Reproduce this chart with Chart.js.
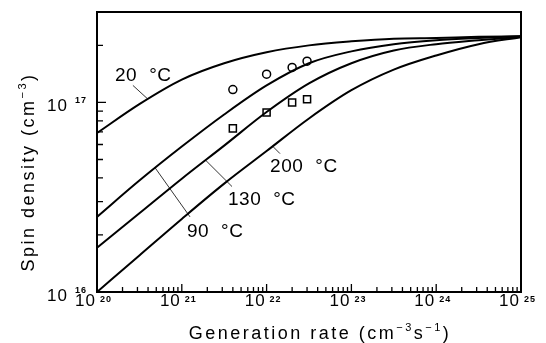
<!DOCTYPE html>
<html>
<head>
<meta charset="utf-8">
<script src="https://cdn.jsdelivr.net/npm/chart.js@4.4.1/dist/chart.umd.min.js"></script>
<style>
  html, body { margin: 0; padding: 0; background: #fff; }
</style>
</head>
<body>
<canvas id="chart" width="546" height="343"></canvas>
<script>
// Generation rate grid (cm^-3 s^-1), half-decade steps
const rates = [1e20, 3.16e20, 1e21, 3.16e21, 1e22, 3.16e22, 1e23, 3.16e23, 1e24, 3.16e24, 1e25];

// Spin density curves (cm^-3)
const curve20  = [6.9e16, 9.8e16, 1.32e17, 1.61e17, 1.84e17, 2.0e17, 2.1e17, 2.17e17, 2.19e17, 2.22e17, 2.235e17];
const curve90  = [2.49e16, 3.87e16, 5.85e16, 8.64e16, 1.23e17, 1.61e17, 1.86e17, 2.03e17, 2.13e17, 2.19e17, 2.235e17];
const curve130 = [1.71e16, 2.6e16, 3.96e16, 5.92e16, 8.9e16, 1.26e17, 1.61e17, 1.88e17, 2.03e17, 2.13e17, 2.22e17];
const curve200 = [1.0e16, 1.56e16, 2.43e16, 3.73e16, 5.54e16, 8.23e16, 1.16e17, 1.49e17, 1.77e17, 2.03e17, 2.21e17];

// Measured points
const pointRates = [4e21, 1e22, 2e22, 3e22];
const circleVals = [1.17e17, 1.41e17, 1.53e17, 1.65e17];
const squareVals = [7.3e16, 8.85e16, 1.0e17, 1.04e17];

// Decade tick labels
const xExps = [20, 21, 22, 23, 24, 25];
const yExps = [16, 17];

// Curve labels: text anchor and leader line, in data coordinates
const curveLabels = [
    { text: '20',  at: [1.63e20, 1.29e17], from: [3.9e20, 1.05e17],  to: [2.65e20, 1.23e17] },
    { text: '90',  at: [1.15e21, 1.95e16], from: [4.83e20, 4.53e16], to: [1.25e21, 2.49e16] },
    { text: '130', at: [3.51e21, 2.88e16], from: [1.88e21, 4.99e16], to: [3.91e21, 3.6e16] },
    { text: '200', at: [1.1e22, 4.32e16],  from: [1.19e22, 5.85e16], to: [1.44e22, 5.37e16] }
];

const FONT = '"Liberation Sans", Arial, sans-serif';

function pts(xs, ys) {
    return xs.map((v, i) => ({ x: v, y: ys[i] }));
}

// draws a run of text pieces, each with its own font and vertical shift
function drawRun(ctx, pieces, x, y) {
    let cx = x;
    pieces.forEach(p => {
        ctx.font = p.font;
        ctx.fillText(p.t, cx, y + (p.dy || 0));
        cx += ctx.measureText(p.t).width + (p.gap || 0);
    });
    return cx - x;
}

function runWidth(ctx, pieces) {
    let w = 0;
    pieces.forEach(p => {
        ctx.font = p.font;
        w += ctx.measureText(p.t).width + (p.gap || 0);
    });
    return w;
}

const decor = {
    id: 'decor',
    afterDraw(chart) {
        const { ctx, chartArea: a } = chart;
        const xs = chart.scales.x, ys = chart.scales.y;
        ctx.save();
        ctx.fillStyle = '#000';
        ctx.strokeStyle = '#000';

        // frame
        ctx.lineWidth = 2;
        ctx.strokeRect(a.left, a.top, a.right - a.left, a.bottom - a.top);

        // inward ticks
        ctx.lineWidth = 1.3;
        ctx.beginPath();
        for (let e = 20; e <= 25; e++) {
            for (let m = 1; m <= 9; m++) {
                const v = m * Math.pow(10, e);
                if (v > xs.max * 1.001) break;
                const px = xs.getPixelForValue(v);
                const len = m === 1 ? 8 : 5;
                ctx.moveTo(px, a.bottom);
                ctx.lineTo(px, a.bottom - len);
            }
        }
        for (let e = 16; e <= 17; e++) {
            for (let m = 1; m <= 9; m++) {
                const v = m * Math.pow(10, e);
                if (v > ys.max * 1.001) break;
                const py = ys.getPixelForValue(v);
                const len = m === 1 ? 9 : 6;
                ctx.moveTo(a.left, py);
                ctx.lineTo(a.left + len, py);
            }
        }
        ctx.stroke();

        ctx.letterSpacing = '1px';
        // x tick labels
        xExps.forEach(e => {
            const px = xs.getPixelForValue(Math.pow(10, e));
            ctx.font = '17px ' + FONT;
            ctx.textAlign = 'right';
            ctx.fillText('10', px - 1, a.bottom + 14);
            ctx.font = 'bold 9px ' + FONT;
            ctx.textAlign = 'left';
            ctx.fillText(String(e), px + 3, a.bottom + 10);
        });
        // y tick labels
        yExps.forEach(e => {
            const py = ys.getPixelForValue(Math.pow(10, e));
            ctx.font = '17px ' + FONT;
            ctx.textAlign = 'right';
            ctx.fillText('10', a.left - 29, py + 9);
            ctx.font = 'bold 9px ' + FONT;
            ctx.textAlign = 'left';
            ctx.fillText(String(e), a.left - 22, py + 1);
        });

        // axis titles
        ctx.textAlign = 'left';
        ctx.letterSpacing = '2.5px';
        const big = '18px ' + FONT, sup = '11px ' + FONT;
        const xTitle = [
            { t: 'Generation rate (cm', font: big },
            { t: '\u22123', font: sup, dy: -8 },
            { t: 's', font: big },
            { t: '\u22121', font: sup, dy: -8 },
            { t: ')', font: big }
        ];
        const xw = runWidth(ctx, xTitle);
        drawRun(ctx, xTitle, (a.left + a.right) / 2 + 11 - xw / 2, a.bottom + 47);

        const yTitle = [
            { t: 'Spin density (cm', font: big },
            { t: '\u22123', font: sup, dy: -8 },
            { t: ')', font: big }
        ];
        const yw = runWidth(ctx, yTitle);
        ctx.save();
        ctx.translate(34, (a.top + a.bottom) / 2 + 20);
        ctx.rotate(-Math.PI / 2);
        drawRun(ctx, yTitle, -yw / 2, 0);
        ctx.restore();

        // curve labels with leader lines
        ctx.letterSpacing = '0.5px';
        ctx.lineWidth = 0.8;
        curveLabels.forEach(l => {
            ctx.beginPath();
            ctx.moveTo(xs.getPixelForValue(l.from[0]), ys.getPixelForValue(l.from[1]));
            ctx.lineTo(xs.getPixelForValue(l.to[0]), ys.getPixelForValue(l.to[1]));
            ctx.stroke();
            const tx = xs.getPixelForValue(l.at[0]), ty = ys.getPixelForValue(l.at[1]);
            drawRun(ctx, [
                { t: l.text, font: '19px ' + FONT, gap: 12 },
                { t: '\u00b0C', font: '19px ' + FONT }
            ], tx, ty);
        });
        ctx.restore();
    }
};

const curveStyle = {
    borderColor: '#000',
    borderWidth: 2,
    pointRadius: 0,
    fill: false,
    cubicInterpolationMode: 'monotone'
};

new Chart(document.getElementById('chart'), {
    type: 'line',
    data: {
        datasets: [{
            label: 'circles',
            data: pts(pointRates, circleVals),
            showLine: false,
            pointStyle: 'circle',
            pointRadius: 4,
            borderColor: '#000',
            backgroundColor: 'rgba(0,0,0,0)',
            borderWidth: 1.5
        }, {
            label: 'squares',
            data: pts(pointRates, squareVals),
            showLine: false,
            pointStyle: 'rect',
            pointRadius: 5,
            borderColor: '#000',
            backgroundColor: 'rgba(0,0,0,0)',
            borderWidth: 1.5
        },
        { label: '20 °C', data: pts(rates, curve20), ...curveStyle },
        { label: '90 °C', data: pts(rates, curve90), ...curveStyle },
        { label: '130 °C', data: pts(rates, curve130), ...curveStyle },
        { label: '200 °C', data: pts(rates, curve200), ...curveStyle }]
    },
    options: {
        responsive: false,
        devicePixelRatio: 1,
        animation: false,
        layout: {
            padding: { left: 97, top: 12, right: 25, bottom: 51 }
        },
        plugins: {
            legend: { display: false },
            tooltip: { enabled: false }
        },
        scales: {
            x: { type: 'logarithmic', min: 1e20, max: 1e25, display: false },
            y: { type: 'logarithmic', min: 1e16, max: 3e17, display: false }
        }
    },
    plugins: [decor]
});
</script>
</body>
</html>
